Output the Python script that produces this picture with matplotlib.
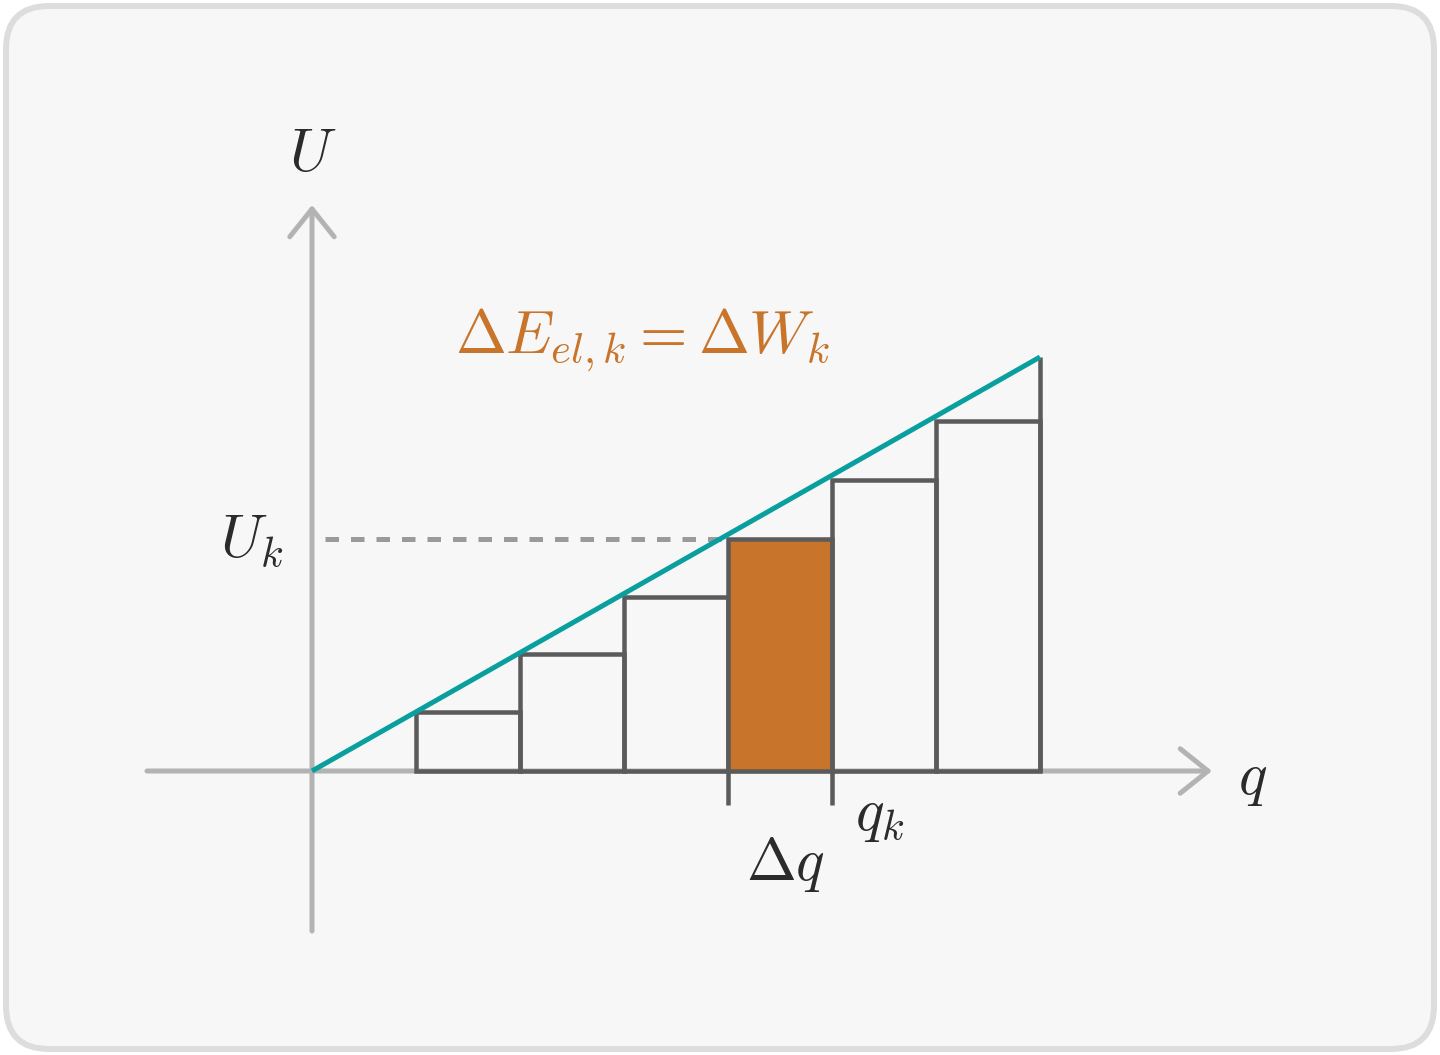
import matplotlib
matplotlib.use("Agg")
import matplotlib.pyplot as plt
from matplotlib.patches import FancyBboxPatch, Rectangle

plt.rcParams['mathtext.fontset'] = 'cm'

# ---- data ----
q_edges = [0, 1, 2, 3, 4, 5, 6, 7]                     # charge steps
step_heights = [0, 1.0, 1.98, 2.94, 3.92, 4.92, 5.92]   # U at each step
k_highlight = 4                                          # highlighted step index
U_line = [0, 7]
q_line = [0, 7]
label_U = r'$U$'
label_q = r'$q$'
label_Uk = r'$U_k$'
label_qk = r'$q_k$'
label_dq = r'$\Delta q$'
label_energy = r'$\Delta E_{el,k} = \Delta W_k$'

# ---- style ----
W, H = 1440, 1055
DPI = 100
PX = 72.0 / DPI
c_bg = '#f7f7f7'
c_border = '#dddddd'
c_axis = '#b3b3b3'
c_step = '#5b5b5b'
c_teal = '#0a9f9f'
c_orange = '#c8742a'
c_dash = '#9a9a9a'
c_text = '#2b2b2b'

sx, sy = 104.0, 59.14
x0, y0 = 312.0, 771.0

fig = plt.figure(figsize=(W / DPI, H / DPI), dpi=DPI)
fig.patch.set_facecolor('white')
ax = fig.add_axes([0, 0, 1, 1])
ax.set_xlim(-x0 / sx, (W - x0) / sx)
ax.set_ylim(-(H - y0) / sy, y0 / sy)
ax.axis('off')
ax.set_zorder(5)

# background card in figure coords
card = FancyBboxPatch((6 / W, 6 / H), (W - 12) / W, (H - 12) / H,
                      boxstyle="round,pad=0,rounding_size=0.03",
                      transform=fig.transFigure, facecolor=c_bg,
                      edgecolor=c_border, linewidth=6 * PX, zorder=-10,
                      mutation_aspect=W / H)
fig.patches.append(card)

def qx(px):
    return (px - x0) / sx

def uy(py):
    return (y0 - py) / sy

# axes arrows
astyle = '->,head_length=2.0,head_width=1.6'
ax.annotate('', xy=(qx(1212), 0), xytext=(qx(147), 0),
            arrowprops=dict(arrowstyle=astyle, color=c_axis, lw=5 * PX,
                            shrinkA=0, shrinkB=0, mutation_scale=10),
            zorder=1)
ax.annotate('', xy=(0, uy(205)), xytext=(0, uy(931)),
            arrowprops=dict(arrowstyle=astyle, color=c_axis, lw=5 * PX,
                            shrinkA=0, shrinkB=0, mutation_scale=10),
            zorder=1)

# steps
for i in range(len(step_heights)):
    h = step_heights[i]
    if h <= 0:
        continue
    fc = c_orange if i == k_highlight else 'none'
    r = Rectangle((q_edges[i], 0), q_edges[i + 1] - q_edges[i], h,
                  facecolor=fc, edgecolor=c_step, linewidth=4.5 * PX, zorder=3)
    ax.add_patch(r)

# last vertical up to the line
ax.plot([q_edges[-1], q_edges[-1]], [0, U_line[-1]], color=c_step,
        lw=4.5 * PX, zorder=3, solid_capstyle='butt')

# ticks for delta q
for qq in (q_edges[k_highlight], q_edges[k_highlight + 1]):
    ax.plot([qq, qq], [0, uy(805)], color=c_step, lw=4.5 * PX, zorder=3,
            solid_capstyle='butt')

# dashed U_k line
ax.plot([qx(325), q_edges[k_highlight]], [step_heights[k_highlight]] * 2,
        color=c_dash, lw=5 * PX, linestyle=(0, (2.7, 2.4)), zorder=2)

# teal line
ax.plot(q_line, U_line, color=c_teal, lw=5 * PX, zorder=4,
        solid_capstyle='butt')

fs = 43
ax.text(qx(313), uy(155), label_U, fontsize=fs, color=c_text,
        ha='center', va='center')
ax.text(qx(1253), uy(778), label_q, fontsize=fs, color=c_text,
        ha='center', va='center')
ax.text(qx(252), uy(540), label_Uk, fontsize=fs, color=c_text,
        ha='center', va='center')
ax.text(qx(880), uy(815), label_qk, fontsize=fs, color=c_text,
        ha='center', va='center')
ax.text(qx(785), uy(865), label_dq, fontsize=fs, color=c_text,
        ha='center', va='center')
ax.text(qx(643), uy(340), label_energy, fontsize=44, color=c_orange,
        ha='center', va='center')

fig.savefig('out.png', dpi=DPI, facecolor='white')
